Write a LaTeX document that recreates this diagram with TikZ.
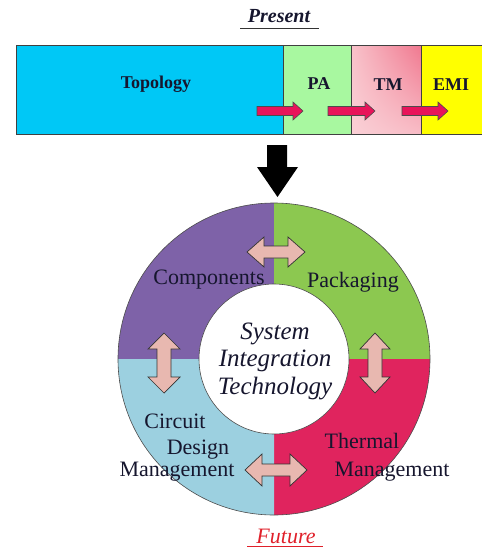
\documentclass[tikz,border=0pt]{standalone}
\usepackage{fontspec}
\setmainfont{LiberationSerif}[Extension=.ttf, UprightFont=*-Regular, BoldFont=*-Bold, ItalicFont=*-Italic, BoldItalicFont=*-BoldItalic]
\usetikzlibrary{shadings}
\definecolor{topocyan}{HTML}{00C8F6}
\definecolor{pagreen}{HTML}{A8F8A0}
\definecolor{tmul}{HTML}{F8C2CA}
\definecolor{tmur}{HTML}{F0788F}
\definecolor{tmll}{HTML}{FAD0D6}
\definecolor{tmlr}{HTML}{F8BCC6}
\definecolor{emiyellow}{HTML}{FFFF00}
\definecolor{arrowred}{HTML}{E8145A}
\definecolor{arrowpink}{HTML}{E8B8B0}
\definecolor{qpurple}{HTML}{7E62A8}
\definecolor{qgreen}{HTML}{8CC850}
\definecolor{qblue}{HTML}{9CD0E0}
\definecolor{qcrimson}{HTML}{E0245E}
\definecolor{textdark}{HTML}{16162E}
\definecolor{futurered}{HTML}{E0202A}
\begin{document}
\begin{tikzpicture}[x=1pt,y=-1pt,
  barbox/.style={draw=black!75, line width=1pt},
  redarrow/.style={fill=arrowred, draw=black!70, line width=0.6pt},
  pinkarrow/.style={fill=arrowpink, draw=black!80, line width=0.7pt},
  barlbl/.style={font=\bfseries\fontsize{18}{20}\selectfont, text=textdark, inner sep=0},
  lbl/.style={font=\fontsize{22}{24}\selectfont, text=textdark, inner sep=0},
  ringline/.style={draw=black!70, line width=0.6pt}]
\useasboundingbox (0,0) rectangle (482,549);
% Present
\node[font=\bfseries\itshape\fontsize{20}{22}\selectfont, text=textdark, inner sep=0] (present) at (279,16) {Present};
\draw[line width=0.9pt, black!80] (240,28) -- (319,28);
% bar
\fill[topocyan] (16,45) rectangle (283,134);
\fill[pagreen] (283,45) rectangle (351,134);
\shade[upper left=tmul, upper right=tmur, lower left=tmll, lower right=tmlr] (351,45) rectangle (421,134);
\fill[emiyellow] (421,45) rectangle (482,134);
\draw[barbox] (16,45) rectangle (485,134);
\draw[barbox] (283,45) -- (283,134) (351,45) -- (351,134) (421,45) -- (421,134);
\node[barlbl] (topo) at (156,84) {Topology};
\node[barlbl] (pa) at (319,84) {PA};
\node[barlbl] (tm) at (388,85) {TM};
\node[barlbl] (emi) at (451,85) {EMI};
% red arrows
\draw[redarrow] (257,106.5) -- (293,106.5) -- (293,102) -- (303,111) -- (293,120) -- (293,115.5) -- (257,115.5) -- cycle;
\draw[redarrow] (328,106.5) -- (365,106.5) -- (365,102) -- (375,111) -- (365,120) -- (365,115.5) -- (328,115.5) -- cycle;
\draw[redarrow] (402,106.5) -- (438,106.5) -- (438,102) -- (448,111) -- (438,120) -- (438,115.5) -- (402,115.5) -- cycle;
% black arrow
\fill[black] (267,145) -- (287,145) -- (287,167) -- (298,167) -- (277.5,197) -- (257,167) -- (267,167) -- cycle;
% ring
\coordinate (c) at (274,359);
\fill[qpurple] (c) -- ++(180:156) arc[start angle=180, end angle=270, radius=156] -- cycle;
\fill[qgreen] (c) -- ++(270:156) arc[start angle=270, end angle=360, radius=156] -- cycle;
\fill[qcrimson] (c) -- ++(0:156) arc[start angle=0, end angle=90, radius=156] -- cycle;
\fill[qblue] (c) -- ++(90:156) arc[start angle=90, end angle=180, radius=156] -- cycle;
\draw[ringline] (c) circle[radius=156];
\draw[ringline, fill=white] (c) circle[radius=75];
% pink double arrows
\draw[pinkarrow] (247,252) -- (264,237) -- (264,246) -- (288,246) -- (288,237) -- (305,252) -- (288,267) -- (288,258) -- (264,258) -- (264,267) -- cycle;
\draw[pinkarrow] (245,470) -- (262,454) -- (262,464) -- (290,464) -- (290,454) -- (307,470) -- (290,486) -- (290,476) -- (262,476) -- (262,486) -- cycle;
\draw[pinkarrow] (164,333) -- (180,349) -- (171,349) -- (171,377) -- (180,377) -- (164,393) -- (148,377) -- (157,377) -- (157,349) -- (148,349) -- cycle;
\draw[pinkarrow] (375,333) -- (390,349) -- (382,349) -- (382,377) -- (390,377) -- (375,393) -- (360,377) -- (368,377) -- (368,349) -- (360,349) -- cycle;
% labels
\node[lbl] (comp) at (209,280) {Components};
\node[lbl] (pack) at (353,282) {Packaging};
\node[lbl] (circ1) at (175,421) {Circuit};
\node[lbl] (circ2) at (198,450) {Design};
\node[lbl] (circ3) at (177,472) {Management};
\node[lbl] (therm1) at (362,441) {Thermal};
\node[lbl] (therm2) at (392,472) {Management};
\node[font=\itshape\fontsize{25}{27.5}\selectfont, text=textdark, align=center, inner sep=0] (sit) at (275,361) {System\\Integration\\Technology};
% Future
\node[font=\itshape\fontsize{22}{24}\selectfont, text=futurered, inner sep=0] (future) at (286,536) {Future};
\draw[line width=0.9pt, futurered] (247,546) -- (323,546);
\end{tikzpicture}
\end{document}
